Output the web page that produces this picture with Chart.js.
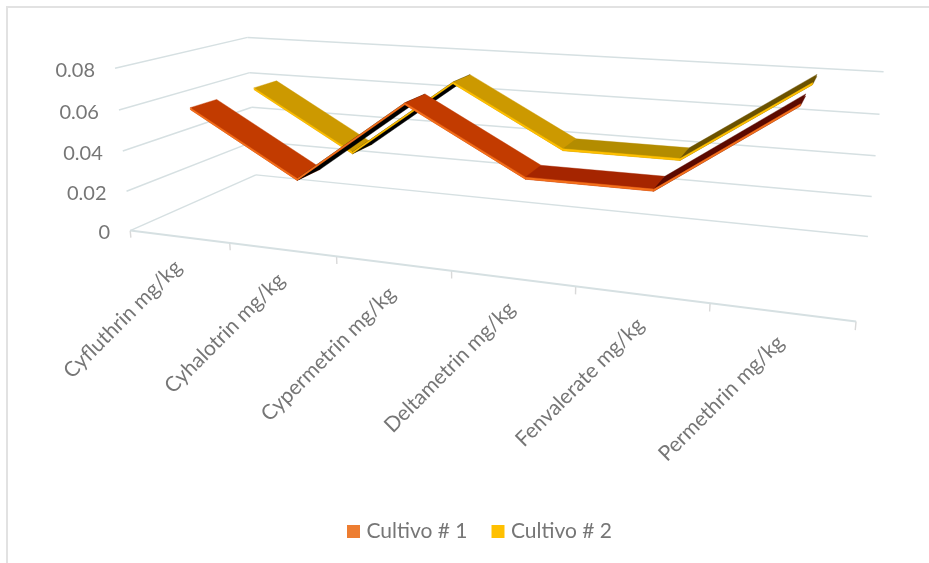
<!DOCTYPE html>
<html>
<head>
<meta charset="utf-8">
<style>
  html, body { margin: 0; background: #fff; }
  #frame { position: absolute; left: 6px; top: 6px; width: 940px; height: 580px; border: 2px solid #e2e2e2; box-sizing: border-box; }
  #wrap { position: absolute; left: 0; top: 0; width: 929px; height: 563px; overflow: hidden; }
  canvas { position: absolute; left: 0; top: 0; }
</style>
<script src="https://cdn.jsdelivr.net/npm/chart.js"></script>
</head>
<body>
<div id="wrap"><div id="frame"></div><canvas id="chart" width="929" height="563"></canvas></div>
<script>
// Residue levels per crop
const categories = ['Cyfluthrin mg/kg', 'Cyhalotrin mg/kg', 'Cypermetrin mg/kg', 'Deltametrin mg/kg', 'Fenvalerate mg/kg', 'Permethrin mg/kg'];
const cultivo1 = [0.06, 0.03, 0.07, 0.041, 0.041, 0.081];
const cultivo2 = [0.06, 0.03, 0.07, 0.041, 0.041, 0.08];

const FONT = 'Lato, "Open Sans", sans-serif';
const TEXT = '#767676';

// Camera: homogeneous projection of (across, up, depth), each 0..1, to canvas pixels
const CAMERA = [
  [549.88643, -19.75779, 174.38006, 130.20848],
  [24.77212, -165.11464, -22.50796, 230.61711],
  [-0.20555, -0.0398, 0.19007, 1]
];
function project(u, v, z) {
  const w = CAMERA[2][0] * u + CAMERA[2][1] * v + CAMERA[2][2] * z + CAMERA[2][3];
  return {
    x: (CAMERA[0][0] * u + CAMERA[0][1] * v + CAMERA[0][2] * z + CAMERA[0][3]) / w,
    y: (CAMERA[1][0] * u + CAMERA[1][1] * v + CAMERA[1][2] * z + CAMERA[1][3]) / w
  };
}

function quad(ctx, pts, colour) {
  ctx.beginPath();
  pts.forEach((p, i) => (i ? ctx.lineTo(p.x, p.y) : ctx.moveTo(p.x, p.y)));
  ctx.closePath();
  ctx.fillStyle = colour;
  ctx.strokeStyle = colour;
  ctx.lineWidth = 0.4;
  ctx.fill();
  ctx.stroke();
}

// A line series drawn as a raised ribbon inside the projected box
class Ribbon3D extends Chart.LineController {
  draw() {
    const ds = this.getDataset();
    const ctx = this.chart.ctx;
    const { x: xs, y: ys } = this.chart.scales;
    const pts = this.getMeta().data.map(p => ({
      u: (p.x - xs.left) / xs.width,
      v: (ys.bottom - p.y) / ys.height
    }));
    const drop = ds.ribbonThickness / (ys.max - ys.min);
    const [z0, z1] = ds.ribbonDepth;
    ctx.save();
    for (let i = 0; i + 1 < pts.length; i++) {
      const a = pts[i], b = pts[i + 1];
      const shade = ds.faceShades[i];
      // underside, top, then the front edge on top of both
      quad(ctx, [project(a.u, a.v - drop, z0), project(b.u, b.v - drop, z0), project(b.u, b.v - drop, z1), project(a.u, a.v - drop, z1)], shade);
      quad(ctx, [project(a.u, a.v, z0), project(b.u, b.v, z0), project(b.u, b.v, z1), project(a.u, a.v, z1)], shade);
      quad(ctx, [project(a.u, a.v, z0), project(b.u, b.v, z0), project(b.u, b.v - drop, z0), project(a.u, a.v - drop, z0)], ds.edgeColor);
    }
    ctx.restore();
  }
}
Ribbon3D.id = 'ribbon3d';
Ribbon3D.defaults = Chart.LineController.defaults;
Ribbon3D.overrides = Chart.LineController.overrides;
Chart.register(Ribbon3D);

// Floor, wall gridlines, tick marks and tick labels, all projected from the two scales
const boxAxes = {
  id: 'boxAxes',
  beforeDatasetsDraw(chart) {
    const { ctx, scales: { x: xs, y: ys } } = chart;
    const nCat = xs.getLabels().length;
    const grid = '#d6e0e2';
    const line = (a, b, c, w) => {
      ctx.beginPath(); ctx.moveTo(a.x, a.y); ctx.lineTo(b.x, b.y);
      ctx.strokeStyle = c; ctx.lineWidth = w; ctx.stroke();
    };
    ctx.save();
    // tick marks below the front edge
    for (let k = 0; k <= nCat; k++) {
      line(project(k / nCat, 0, 0), project(k / nCat, -0.045, 0), '#d9d9d9', 1.4);
    }
    // gridlines across the side and back walls
    ys.ticks.forEach(t => {
      const v = (ys.bottom - ys.getPixelForValue(t.value)) / ys.height;
      line(project(0, v, 0), project(0, v, 1), grid, 1.5);
      line(project(0, v, 1), project(1, v, 1), grid, 1.5);
      const p = project(0, v, 0);
      ctx.fillStyle = TEXT;
      ctx.font = '20px ' + FONT;
      ctx.textAlign = 'right';
      ctx.textBaseline = 'middle';
      ctx.fillText(t.label, p.x - 20, p.y + 2);
    });
    line(project(0, 0, 0), project(1, 0, 0), grid, 2);
    // category labels hang off the front edge
    xs.getLabels().forEach((label, i) => {
      const u = (xs.getPixelForValue(i) - xs.left) / xs.width;
      const p = project(u, 0, 0);
      ctx.save();
      ctx.translate(p.x - 1, p.y + 27);
      ctx.rotate(-45 * Math.PI / 180);
      ctx.fillStyle = TEXT;
      ctx.font = '21px ' + FONT;
      ctx.textAlign = 'right';
      ctx.textBaseline = 'middle';
      ctx.fillText(label, 0, 0);
      ctx.restore();
    });
    ctx.restore();
  }
};

new Chart(document.getElementById('chart'), {
  type: 'ribbon3d',
  plugins: [boxAxes],
  data: {
    labels: categories,
    datasets: [
      {
        label: 'Cultivo # 1', data: cultivo1, clip: false, order: 0,
        backgroundColor: '#ED7D31', borderColor: '#ED7D31', borderWidth: 0,
        edgeColor: '#F4701B', ribbonDepth: [0.145, 0.34], ribbonThickness: 0.0009,
        faceShades: ['#C23B00', '#000000', '#C23B00', '#A52500', '#5C0A00']
      },
      {
        label: 'Cultivo # 2', data: cultivo2, clip: false, order: 1,
        backgroundColor: '#FFC000', borderColor: '#FFC000', borderWidth: 0,
        edgeColor: '#FFC000', ribbonDepth: [0.64, 0.84], ribbonThickness: 0.0009,
        faceShades: ['#CC9900', '#000000', '#CC9900', '#B38C00', '#6B5200']
      }
    ]
  },
  options: {
    responsive: false,
    animation: false,
    layout: { padding: { left: 34, bottom: 11 } },
    elements: { point: { radius: 0 } },
    scales: {
      x: { type: 'category', offset: true, display: false },
      y: { type: 'linear', min: 0, max: 0.08, ticks: { stepSize: 0.02 }, display: false }
    },
    plugins: {
      tooltip: { enabled: false },
      legend: {
        position: 'bottom',
        labels: { usePointStyle: true, pointStyle: 'rect', boxWidth: 5, boxHeight: 13, color: TEXT, font: { family: FONT, size: 21 }, padding: 28 }
      }
    }
  }
});
</script>
</body>
</html>
